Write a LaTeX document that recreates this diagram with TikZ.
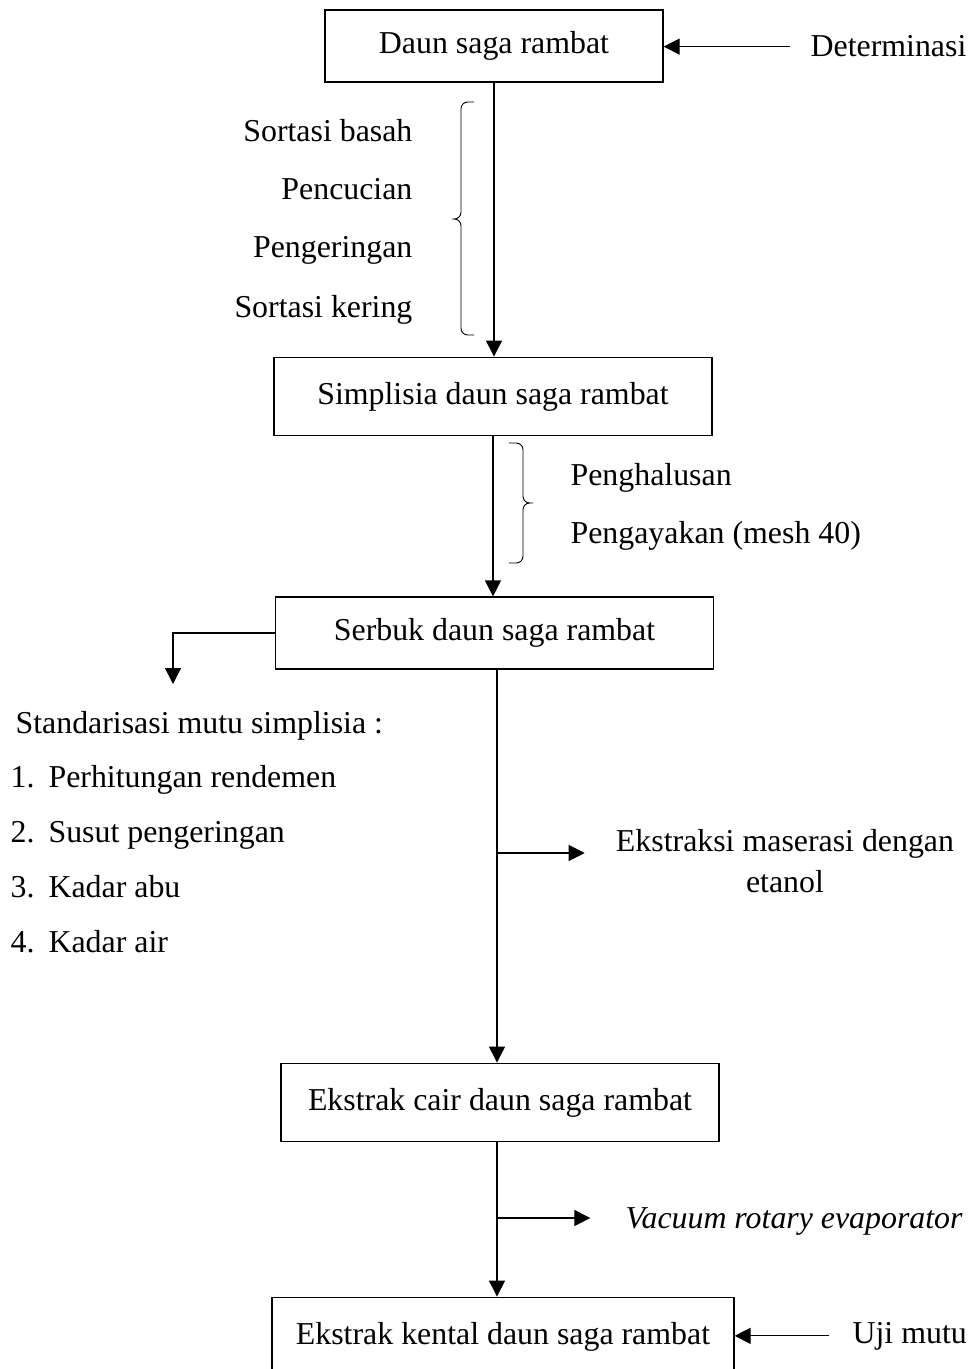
\documentclass[tikz,border=0pt]{standalone}
\usepackage{fontspec}
\setmainfont{Liberation Serif}
\usetikzlibrary{arrows.meta}
\usetikzlibrary{positioning}

\begin{document}
\begin{tikzpicture}[x=0.75pt,y=-0.75pt,>={Triangle[length=12pt,width=12pt]},line width=0.9pt,
	font=\fontsize{23.9}{31}\selectfont]
		\tikzstyle{box}=[draw,rectangle,inner sep=0pt]
		\tikzstyle{lbl}=[inner sep=0pt]
		\tikzstyle{arr}=[->]
		\tikzstyle{brc}=[line width=0.7pt,rounded corners=5pt]
		\useasboundingbox (0,0) rectangle (975,1369);
		
		% kotak utama
		\node[box,minimum width=253.5pt,minimum height=54pt]   (daun)      at (494,46)     {Daun saga rambat};
		\node[box,minimum width=328.5pt,minimum height=59pt]   (simplisia) at (493,396.5)  {Simplisia daun saga rambat};
		\node[box,minimum width=329pt,minimum height=54pt]     (serbuk)    at (494.5,633)  {Serbuk daun saga rambat};
		\node[box,minimum width=328.5pt,minimum height=59pt]   (cair)      at (500,1102.5) {Ekstrak cair daun saga rambat};
		\node[box,minimum width=346.5pt,minimum height=59pt]   (kental)    at (503,1336.5) {Ekstrak kental daun saga rambat};
		
		% keterangan
		\node[lbl,anchor=base west]  (det)   at (810,57)   {Determinasi};
		\node[lbl,anchor=base east]  (sb)    at (413,142)  {Sortasi basah};
		\node[lbl,anchor=base east]  (cuci)  at (413,200)  {Pencucian};
		\node[lbl,anchor=base east]  (kering) at (413,258) {Pengeringan};
		\node[lbl,anchor=base east]  (sk)    at (413,317)  {Sortasi kering};
		\node[lbl,anchor=base west]  (halus) at (570,485)  {Penghalusan};
		\node[lbl,anchor=base west]  (ayak)  at (570,543)  {Pengayakan (mesh 40)};
		\node[lbl,anchor=base west]  (std)   at (15,733)   {Standarisasi mutu simplisia :};
		\node[lbl,anchor=base west]  (s1)    at (10,787)   {\makebox[28.5pt][l]{1.}Perhitungan rendemen};
		\node[lbl,anchor=base west]  (s2)    at (10,842)   {\makebox[28.5pt][l]{2.}Susut pengeringan};
		\node[lbl,anchor=base west]  (s3)    at (10,897)   {\makebox[28.5pt][l]{3.}Kadar abu};
		\node[lbl,anchor=base west]  (s4)    at (10,952)   {\makebox[28.5pt][l]{4.}Kadar air};
		\node[lbl,align=center]      (eks)   at (785,861)  {Ekstraksi maserasi dengan\\etanol};
		\node[lbl,anchor=base west]  (vac)   at (625,1228) {\textit{Vacuum rotary evaporator}};
		\node[lbl,anchor=base west]  (uji)   at (852,1343) {Uji mutu};
		
		\coordinate (stdtop) at (173,684);
		\coordinate (m1) at (497,853);
		\coordinate (m2) at (497,1218);
		
		% panah
		\draw[arr,shorten <=15pt] (det.west) -- (det.west -| daun.east);
		\draw[arr] (daun.south) -- (daun.south |- simplisia.north);
		\draw[arr] (simplisia.south) -- (simplisia.south |- serbuk.north);
		\draw[arr] (serbuk.west) -| (stdtop);
		\draw[arr] (serbuk.south -| m1) -- (cair.north -| m1);
		\draw[arr,shorten >=23pt] (m1) -- (m1 -| eks.west);
		\draw[arr] (cair.south -| m2) -- (kental.north -| m2);
		\draw[arr,shorten >=26pt] (m2) -- (m2 -| vac.west);
		\draw[arr,shorten <=17pt] (uji.west) -- (uji.west -| kental.east);
		
		% kurung kurawal
		\draw[brc] (474,102) -- (461,102) -- (461,219) -- (448,219) -- (461,219) -- (461,335) -- (474,335);
		\draw[brc] (509,443) -- (523,443) -- (523,503) -- (537,503) -- (523,503) -- (523,563) -- (509,563);
		\end{tikzpicture}
\end{document}
